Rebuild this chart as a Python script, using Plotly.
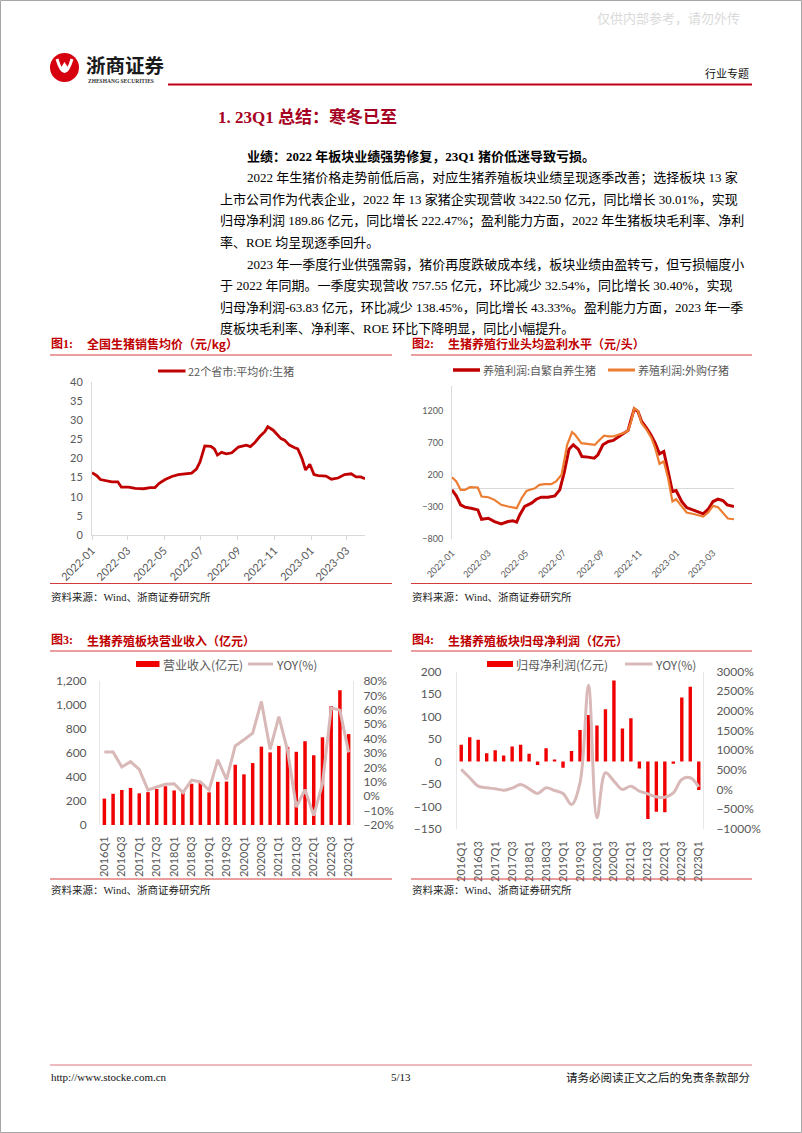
import pandas as pd
import plotly.graph_objects as go

W, H = 802, 1133

# region data
# 图1: 全国生猪销售均价 (元/kg), day offsets from 2022-01-01
price_days = [0, 8, 14, 22, 33, 43, 49, 61, 72, 86, 97, 105, 112, 122, 133, 144, 155, 166, 174, 180,
              188, 198, 204, 209, 216, 224, 233, 244, 257, 264, 271, 280, 288, 293, 302, 310, 315, 321,
              329, 338, 343, 350, 356, 363, 370, 377, 390, 399, 410, 421, 432, 440, 448, 455]
price_values = [16.3, 15.5, 14.5, 14.2, 13.9, 13.9, 12.5, 12.5, 12.2, 12.1, 12.4, 12.4, 13.5, 14.5, 15.3,
                15.8, 16.0, 16.2, 17.2, 19.1, 23.3, 23.2, 22.5, 20.9, 21.6, 21.2, 21.5, 23.0, 23.5, 23.1,
                24.1, 25.8, 27.0, 28.3, 27.4, 26.1, 25.2, 24.8, 23.5, 22.8, 22.5, 20.0, 17.0, 18.5, 15.8,
                15.5, 15.4, 14.6, 14.9, 15.8, 16.0, 15.2, 15.2, 14.7]

# 图2: 头均盈利 (元/头)
self_days = [0, 7, 14, 21, 31, 42, 48, 59, 69, 80, 91, 99, 105, 110, 118, 129, 137, 145, 156, 167,
             175, 182, 190, 197, 205, 211, 221, 231, 237, 245, 254, 262, 270, 278, 286, 290, 296, 302,
             308, 316, 323, 330, 337, 344, 350, 358, 364, 373, 381, 394, 408, 416, 424, 432, 440, 447,
             454, 458]
self_profit = [-28, -122, -262, -298, -314, -341, -487, -471, -523, -559, -523, -512, -533, -419, -288,
               -236, -174, -143, -143, -122, -28, 233, 608, 676, 608, 493, 483, 467, 520, 676, 728, 744,
               796, 842, 900, 1040, 1237, 1196, 1040, 936, 831, 702, 535, 572, 285, -54, -38, -210, -304,
               -356, -403, -330, -210, -174, -195, -262, -278, -288]
buy_days = [0, 7, 14, 21, 29, 42, 48, 59, 69, 80, 91, 99, 105, 113, 121, 129, 134, 142, 151, 161,
            169, 178, 187, 195, 200, 210, 221, 232, 240, 247, 254, 262, 270, 278, 286, 291, 296, 302,
            308, 316, 324, 330, 337, 344, 351, 358, 364, 373, 381, 394, 408, 416, 424, 432, 440, 448, 458]
buy_profit = [170, 103, -28, -28, 14, 9, -132, -143, -184, -262, -288, -298, -314, -158, -44, -18, -7,
              50, 61, 61, 103, 207, 676, 874, 832, 702, 692, 676, 754, 817, 806, 806, 832, 858, 900,
              1040, 1247, 1206, 1013, 910, 780, 624, 379, 415, 155, -210, -174, -288, -382, -408, -444,
              -382, -278, -298, -392, -476, -487]

quarters = ["2016Q1", "2016Q2", "2016Q3", "2016Q4", "2017Q1", "2017Q2", "2017Q3", "2017Q4",
            "2018Q1", "2018Q2", "2018Q3", "2018Q4", "2019Q1", "2019Q2", "2019Q3", "2019Q4",
            "2020Q1", "2020Q2", "2020Q3", "2020Q4", "2021Q1", "2021Q2", "2021Q3", "2021Q4",
            "2022Q1", "2022Q2", "2022Q3", "2022Q4", "2023Q1"]
quarter_ticks = quarters[::2]

# 图3: 营业收入 (亿元) and YOY (%)
revenue = [220, 260, 292, 309, 264, 274, 300, 323, 288, 267, 344, 366, 272, 360, 362, 502, 422, 516,
           653, 605, 659, 651, 610, 698, 581, 731, 992, 1123, 757.55]
revenue_yoy = [30.7, 30.7, 20.3, 24.0, 18.6, 4.3, 6.4, 8.3, 8.7, 2.5, 11.2, 9.9, 4.3, 25.3, 11.5, 34.9,
               39.2, 43.8, 65.8, 32.5, 55.2, 31.8, -7.5, 4.6, -13.5, 8.7, 61.4, 59.8, 30.4]

# 图4: 归母净利润 (亿元) and YOY (%)
net_profit = [37, 53.5, 48, 18, 25, 13, 33, 37, 17, -8, 29, 3, -14, 23, 70, 103, 80, 116, 180, 73, 96,
              -16, -128, -112, -113, -5.5, 142, 166, -63.83]
net_profit_yoy = [511, 298, 85, 43, 17, -17, 34, 128, 17, -102, 43, -26, -102, -383, 170, 2650, -720,
                  426, 213, 0, 85, -43, -111, -187, -196, -85, 256, 298, 68]
# endregion

start = pd.Timestamp("2022-01-01")
price_dates = start + pd.to_timedelta(price_days, unit="D")
self_dates = start + pd.to_timedelta(self_days, unit="D")
buy_dates = start + pd.to_timedelta(buy_days, unit="D")

SERIF = "Liberation Serif, Noto Sans CJK SC"
SANS = "Noto Sans CJK SC"
NUM = "Lato, Noto Sans CJK SC"
RED = "#C00000"
ORANGE = "#ED7D31"
YOY_C = "#D9B8B8"
BAR_RED = "#F00000"
GREY_TXT = "#595959"


def fx(v):
    return v / W


def fy(v):
    return 1 - v / H


annotations = []
shapes = []


def text(x, y, s, size, color="#000000", family=SERIF, anchor="left", bold=False):
    if bold:
        s = "<b>" + s + "</b>"
    annotations.append(dict(x=fx(x), y=fy(y), xref="paper", yref="paper", text=s, showarrow=False,
                            xanchor=anchor, yanchor="middle", font=dict(size=size, color=color, family=family)))


def hline(x0, x1, y, color, width=1):
    shapes.append(dict(type="line", xref="paper", yref="paper", x0=fx(x0), x1=fx(x1), y0=fy(y), y1=fy(y),
                       line=dict(color=color, width=width)))


def key_rect(x0, x1, y0, y1, color):
    shapes.append(dict(type="rect", xref="paper", yref="paper", x0=fx(x0), x1=fx(x1), y0=fy(y1), y1=fy(y0),
                       fillcolor=color, line=dict(width=0)))


fig = go.Figure()

# chart 1
fig.add_trace(go.Scatter(x=price_dates, y=price_values, mode="lines", line=dict(color=RED, width=2.8),
                         xaxis="x", yaxis="y", showlegend=False, hoverinfo="skip"))
# chart 2
fig.add_trace(go.Scatter(x=self_dates, y=self_profit, mode="lines", line=dict(color=RED, width=3),
                         xaxis="x2", yaxis="y2", showlegend=False, hoverinfo="skip"))
fig.add_trace(go.Scatter(x=buy_dates, y=buy_profit, mode="lines", line=dict(color=ORANGE, width=2.2),
                         xaxis="x2", yaxis="y2", showlegend=False, hoverinfo="skip"))
# chart 3
fig.add_trace(go.Bar(x=quarters, y=revenue, marker=dict(color=BAR_RED, line=dict(width=0)),
                     xaxis="x3", yaxis="y3", showlegend=False, hoverinfo="skip"))
fig.add_trace(go.Scatter(x=quarters, y=revenue_yoy, mode="lines", line=dict(color=YOY_C, width=3),
                         xaxis="x3", yaxis="y4", showlegend=False, hoverinfo="skip"))
# chart 4
fig.add_trace(go.Bar(x=quarters, y=net_profit, marker=dict(color=BAR_RED, line=dict(width=0)),
                     xaxis="x4", yaxis="y5", showlegend=False, hoverinfo="skip"))
fig.add_trace(go.Scatter(x=quarters, y=net_profit_yoy, mode="lines",
                         line=dict(color=YOY_C, width=3, shape="spline"),
                         xaxis="x4", yaxis="y6", showlegend=False, hoverinfo="skip"))

gap = "rgba(0,0,0,0)"
base_y = dict(showgrid=False, zeroline=False, ticks="outside", tickcolor=gap, fixedrange=True,
              automargin=False)

date_x = dict(type="date", tick0="2022-01-01", dtick="M2", tickformat="%Y-%m", tickangle=-45,
              showgrid=False, zeroline=False, automargin=False)

fig.update_layout(
    width=W, height=H, autosize=False,
    margin=dict(l=0, r=0, t=0, b=0, pad=0),
    paper_bgcolor="white", plot_bgcolor="white",
    hovermode=False, bargap=0.6,
    xaxis=dict(date_x, domain=[fx(92), fx(365)], anchor="y", range=["2022-01-01", "2023-04-01"],
               showline=True, linecolor="#D9D9D9", ticks="outside", ticklen=4, tickcolor="#D9D9D9",
               tickfont=dict(family=NUM, size=11, color=GREY_TXT)),
    yaxis=dict(base_y, domain=[fy(535), fy(382)], anchor="x", range=[0, 40], dtick=5, ticklen=6,
               showline=True, linecolor="#D9D9D9", tickfont=dict(family=NUM, size=11, color=GREY_TXT)),
    xaxis2=dict(date_x, domain=[fx(452), fx(734)], anchor="y2", range=["2022-01-01", "2023-04-04"],
                showline=False, ticks="outside", ticklen=4, tickcolor=gap,
                tickfont=dict(family=NUM, size=9, color=GREY_TXT)),
    yaxis2=dict(base_y, domain=[fy(539.3), fy(385.6)], anchor="x2", range=[-800, 1600],
                tickvals=[-800, -300, 200, 700, 1200], ticklen=6, showline=True, linecolor="#D9D9D9",
                zeroline=True, zerolinecolor="#D9D9D9", zerolinewidth=1,
                tickfont=dict(family=NUM, size=9, color=GREY_TXT)),
    xaxis3=dict(domain=[fx(100), fx(353)], anchor="y3", type="category", tickvals=quarter_ticks,
                tickangle=-90, showline=False, showgrid=False, ticks="outside", ticklen=6, tickcolor=gap,
                automargin=False, tickfont=dict(family=NUM, size=11, color=GREY_TXT)),
    yaxis3=dict(base_y, domain=[fy(825), fy(681)], anchor="x3", range=[0, 1200], dtick=200,
                tickformat=",", ticklen=10, showline=True, linecolor="#E6E6E6",
                tickfont=dict(family=NUM, size=12, color=GREY_TXT)),
    yaxis4=dict(base_y, overlaying="y3", side="right", anchor="x3", range=[-20, 80], dtick=10,
                ticksuffix="%", ticklen=7, showline=True, linecolor="#E6E6E6",
                tickfont=dict(family=NUM, size=12, color=GREY_TXT)),
    xaxis4=dict(domain=[fx(457), fx(703)], anchor="y5", type="category", tickvals=quarter_ticks,
                tickangle=-90, showline=False, showgrid=False, ticks="outside", ticklen=7, tickcolor=gap,
                automargin=False, tickfont=dict(family=NUM, size=11, color=GREY_TXT)),
    yaxis5=dict(base_y, domain=[fy(828.8), fy(671.5)], anchor="x4", range=[-150, 200], dtick=50,
                ticklen=12, showline=True, linecolor="#E6E6E6",
                tickfont=dict(family=NUM, size=12, color=GREY_TXT)),
    yaxis6=dict(base_y, overlaying="y5", side="right", anchor="x4", range=[-1000, 3000], dtick=500,
                ticksuffix="%", ticklen=10, showline=True, linecolor="#E6E6E6",
                tickfont=dict(family=NUM, size=12, color=GREY_TXT)),
)

# page frame
shapes.append(dict(type="rect", xref="paper", yref="paper", x0=fx(0.5), x1=fx(801.5), y0=fy(1132.5), y1=fy(0.5),
                   line=dict(color="#A6A6A6", width=1)))

# header
text(742, 17, "仅供内部参考，请勿外传", 13, color="#DADADA", family=SANS, anchor="right")
shapes.append(dict(type="circle", xref="paper", yref="paper", x0=fx(50), x1=fx(79), y0=fy(82), y1=fy(53),
                   fillcolor="#D7000F", line=dict(width=0)))
shapes.append(dict(type="path", xref="paper", yref="paper",
                   path="M {} {} Q {} {} {} {}".format(fx(57), fy(59), fx(64.5), fy(84), fx(72), fy(59)),
                   line=dict(color="white", width=3)))
shapes.append(dict(type="path", xref="paper", yref="paper",
                   path="M {} {} L {} {} L {} {} L {} {} Z".format(fx(64.5), fy(62), fx(68), fy(67.5),
                                                                   fx(64.5), fy(73), fx(61), fy(67.5)),
                   fillcolor="white", line=dict(width=0)))
text(84, 65, "浙商证券", 19.5, color="#1A1A1A", family=SANS, bold=True)
text(86, 81, "ZHESHANG SECURITIES", 5.5, color="#333333", family=SERIF, bold=True)
text(751, 73, "行业专题", 11, color="#111111", family=SANS, anchor="right")
hline(168, 752, 84.5, "#C0001A", 2)

# section title and body
text(216, 117, "1. 23Q1 总结：寒冬已至", 17, color="#A50021", family=SERIF, bold=True)
body = [
    (245, 156.5, "业绩：2022 年板块业绩强势修复，23Q1 猪价低迷导致亏损。", True),
    (245, 178, "2022 年生猪价格走势前低后高，对应生猪养殖板块业绩呈现逐季改善；选择板块 13 家", False),
    (218, 199.5, "上市公司作为代表企业，2022 年 13 家猪企实现营收 3422.50 亿元，同比增长 30.01%，实现", False),
    (218, 221, "归母净利润 189.86 亿元，同比增长 222.47%；盈利能力方面，2022 年生猪板块毛利率、净利", False),
    (218, 242.5, "率、ROE 均呈现逐季回升。", False),
    (245, 264, "2023 年一季度行业供强需弱，猪价再度跌破成本线，板块业绩由盈转亏，但亏损幅度小", False),
    (218, 285.5, "于 2022 年同期。一季度实现营收 757.55 亿元，环比减少 32.54%，同比增长 30.40%，实现", False),
    (218, 307, "归母净利润-63.83 亿元，环比减少 138.45%，同比增长 43.33%。盈利能力方面，2023 年一季", False),
    (218, 328.5, "度板块毛利率、净利率、ROE 环比下降明显，同比小幅提升。", False),
]
for bx, by, s, b in body:
    text(bx, by, s, 13, color="#000000", family=SERIF, bold=b)

# figure headers, rules and sources
panels = [
    (50, 392, 343.5, 355, 583.5, 596.5, "图1:", "全国生猪销售均价（元/kg）"),
    (411, 752, 343.5, 355, 583.5, 596.5, "图2:", "生猪养殖行业头均盈利水平（元/头）"),
    (50, 392, 640, 651, 879, 890, "图3:", "生猪养殖板块营业收入（亿元）"),
    (411, 752, 640, 651, 879, 890, "图4:", "生猪养殖板块归母净利润（亿元）"),
]
for x0, x1, ty, ly, by_, sy, tag, title in panels:
    text(x0 - 1, ty, tag, 12, color=RED, family=SERIF, bold=True)
    text(x0 + 35, ty, title, 12, color=RED, family=SANS, bold=True)
    hline(x0, x1, ly, "#D43C3C", 1)
    hline(x0, x1, by_, "#D43C3C", 1)
    text(x0 - 1, sy, "资料来源：Wind、浙商证券研究所", 10.5, color="#222222", family=SERIF)

# legends
hline(158, 185.5, 371, RED, 3)
text(186, 371, "22个省市:平均价:生猪", 11, color=GREY_TXT, family=SANS)
hline(453, 480, 370, RED, 3.5)
text(481, 370, "养殖利润:自繁自养生猪", 11, color=GREY_TXT, family=SANS)
hline(608, 635, 370, ORANGE, 3)
text(636, 370, "养殖利润:外购仔猪", 11, color=GREY_TXT, family=SANS)

key_rect(136, 159.5, 661, 667, BAR_RED)
text(161, 664, "营业收入(亿元)", 12, color=GREY_TXT, family=SANS)
hline(248, 273, 664, YOY_C, 3)
text(274, 664, "YOY(%)", 12, color=GREY_TXT, family=SANS)
key_rect(487, 513, 661, 667, BAR_RED)
text(514, 664, "归母净利润(亿元)", 12, color=GREY_TXT, family=SANS)
hline(625, 652.5, 664, YOY_C, 3)
text(653, 664, "YOY(%)", 12, color=GREY_TXT, family=SANS)

# footer
hline(50, 752, 1065, "#E8A2A8", 1.5)
text(49, 1077, "http://www.stocke.com.cn", 11, color="#111111", family=SERIF)
text(401, 1077, "5/13", 11, color="#111111", family=SERIF, anchor="center")
text(752, 1077, "请务必阅读正文之后的免责条款部分", 11.5, color="#111111", family=SANS, anchor="right")

fig.update_layout(annotations=annotations, shapes=shapes)
# page body has a default margin; drop it so the figure sits at the window origin
fig.write_html("out.html", config={"displayModeBar": False},
               post_script="document.body.style.margin='0';")
